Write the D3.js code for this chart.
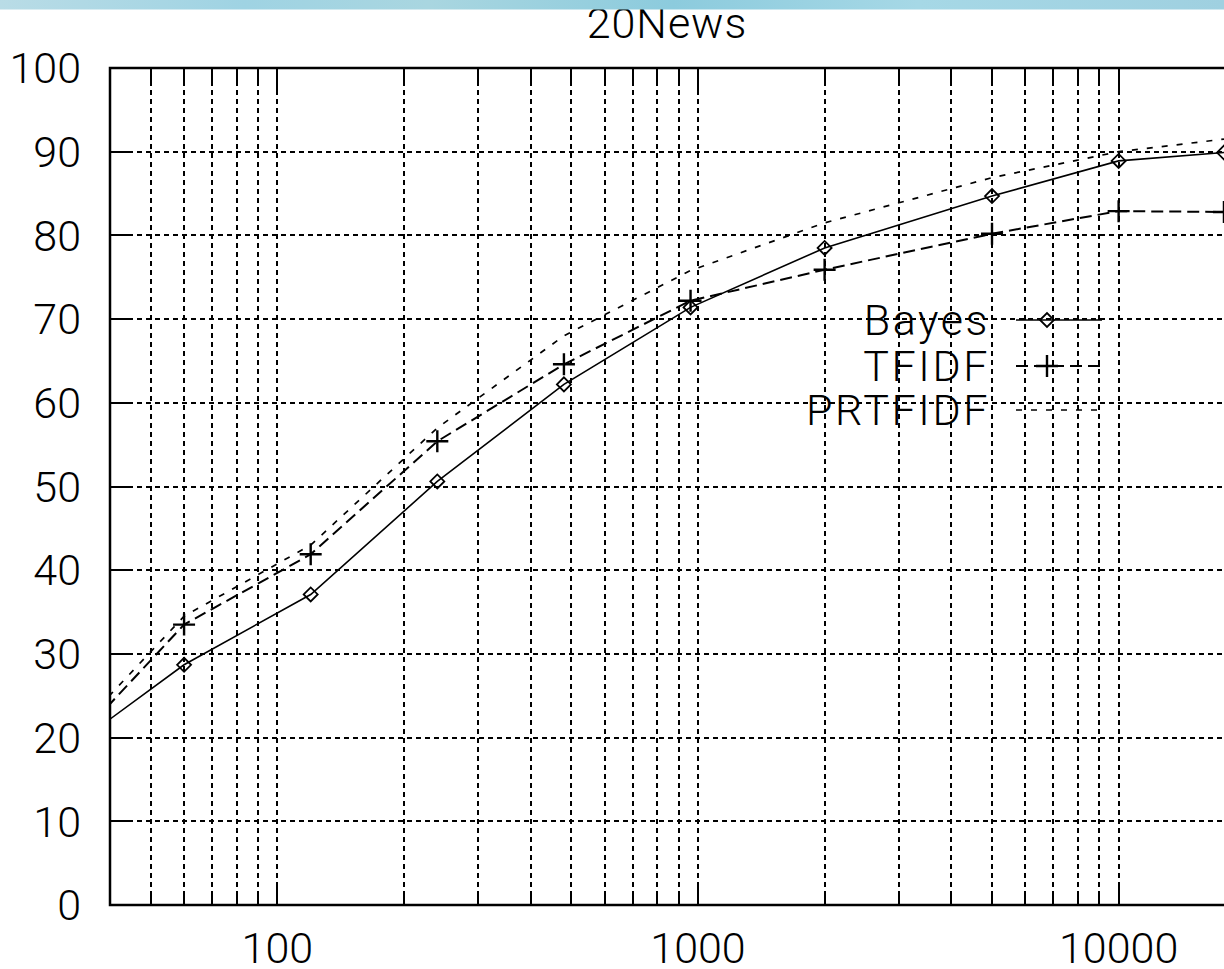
<!DOCTYPE html>
<html>
<head>
<meta charset="utf-8">
<script src="https://cdn.jsdelivr.net/npm/d3@7"></script>
<style>
  html, body { margin: 0; padding: 0; background: #fff; }
  svg { display: block; }
  text { font-family: "Roboto", "Liberation Sans", Arial, sans-serif; font-weight: 300; fill: #000; }
</style>
</head>
<body>
<svg id="chart" width="1224" height="969"></svg>
<script>
// ---- data ----
const title = "20News";
const trainSizes = [30, 60, 120, 240, 480, 960, 2000, 5000, 10000, 17800];
const bayes   = [17.6, 28.7, 37.1, 50.6, 62.2, 71.4, 78.5, 84.7, 88.9, 89.9];
const tfidf   = [17.3, 33.5, 41.9, 55.4, 64.6, 72.2, 75.9, 80.2, 82.9, 82.8];
const prtfidf = [18.4, 34.5, 43.0, 57.0, 68.0, 75.8, 81.5, 86.9, 90.0, 91.5];
const seriesNames = ["Bayes", "TFIDF", "PRTFIDF"];
const xDomain = [40, 18000];
const yDomain = [0, 100];
const xTickLabels = [100, 1000, 10000];
const yTickValues = [0, 10, 20, 30, 40, 50, 60, 70, 80, 90, 100];

// ---- layout ----
const svg = d3.select("#chart");
const L = 110, R = 1226, T = 68, B = 905;
const x = d3.scaleLog().domain(xDomain).range([L, R]);
const y = d3.scaleLinear().domain(yDomain).range([B, T]);
const px = v => Math.round(v) + 0.5;

// minor log ticks (gridlines) 50..10000
const xGrid = [];
[10, 100, 1000].forEach(dec => {
  for (let k = 1; k <= 9; k++) xGrid.push(dec * k);
});
xGrid.push(10000);
const xGridU = Array.from(new Set(xGrid)).filter(v => v > xDomain[0] && v < xDomain[1]);

const gGrid = svg.append("g").attr("stroke", "#000").attr("stroke-width", 2)
  .attr("stroke-dasharray", "5,4").attr("fill", "none").attr("shape-rendering", "crispEdges");
gGrid.selectAll("line.v").data(xGridU).enter().append("line")
  .attr("x1", d => Math.round(x(d))).attr("x2", d => Math.round(x(d))).attr("y1", B).attr("y2", T);
gGrid.selectAll("line.h").data(yTickValues.filter(v => v > 0 && v < 100)).enter().append("line")
  .attr("x1", L).attr("x2", R).attr("y1", d => Math.round(y(d))).attr("y2", d => Math.round(y(d)));

// ticks
const gTicks = svg.append("g").attr("stroke", "#000").attr("stroke-width", 2).attr("fill", "none")
  .attr("shape-rendering", "crispEdges");
xGridU.forEach(v => {
  const major = xTickLabels.includes(v);
  const len = major ? 22 : 14;
  const xx = Math.round(x(v));
  gTicks.append("line").attr("x1", xx).attr("x2", xx).attr("y1", B).attr("y2", B - len);
  gTicks.append("line").attr("x1", xx).attr("x2", xx).attr("y1", T).attr("y2", T + len);
});
yTickValues.forEach(v => {
  const yy = Math.round(y(v));
  gTicks.append("line").attr("x1", L).attr("x2", L + 22).attr("y1", yy).attr("y2", yy);
});

// border
svg.append("rect").attr("x", L).attr("y", T).attr("width", R - L).attr("height", B - T)
  .attr("fill", "none").attr("stroke", "#000").attr("stroke-width", 2.5);

// axis labels
svg.append("g").selectAll("text").data(yTickValues).enter().append("text")
  .attr("x", 81).attr("y", d => y(d)).attr("dy", "0.355em")
  .attr("text-anchor", "end").attr("font-size", 43).text(d => d);
svg.append("g").selectAll("text").data(xTickLabels).enter().append("text")
  .attr("x", d => x(d)).attr("y", 963)
  .attr("text-anchor", "middle").attr("font-size", 43).text(d => d);

// clip
svg.append("clipPath").attr("id", "plotclip").append("rect")
  .attr("x", L).attr("y", T).attr("width", R - L).attr("height", B - T);

const styles = {
  Bayes:   { data: bayes,   dash: null,   width: 1.6, marker: "diamond" },
  TFIDF:   { data: tfidf,   dash: "12,6", width: 2.0, marker: "plus" },
  PRTFIDF: { data: prtfidf, dash: "6,9",  width: 1.7, marker: null }
};

const line = d3.line().x(d => x(d[0])).y(d => y(d[1]));
const gData = svg.append("g").attr("clip-path", "url(#plotclip)");

function drawMarker(g, type, cx, cy) {
  if (type === "diamond") {
    const s = 7;
    g.append("path").attr("d", `M${cx - s},${cy}L${cx},${cy - s}L${cx + s},${cy}L${cx},${cy + s}Z`)
      .attr("fill", "none").attr("stroke", "#000").attr("stroke-width", 1.8);
  } else if (type === "plus") {
    const s = 11;
    g.append("path").attr("d", `M${cx - s},${cy}H${cx + s}M${cx},${cy - s}V${cy + s}`)
      .attr("fill", "none").attr("stroke", "#000").attr("stroke-width", 2.4);
  }
}

seriesNames.forEach(name => {
  const st = styles[name];
  const pts = trainSizes.map((t, i) => [t, st.data[i]]);
  gData.append("path").datum(pts).attr("d", line)
    .attr("fill", "none").attr("stroke", "#000").attr("stroke-width", st.width)
    .attr("stroke-dasharray", st.dash);
  if (st.marker) pts.forEach(p => drawMarker(gData, st.marker, x(p[0]), y(p[1])));
});

// legend
const legY = [320, 366, 410];
seriesNames.forEach((name, i) => {
  const st = styles[name];
  svg.append("text").attr("x", 990).attr("y", legY[i]).attr("dy", "0.355em")
    .attr("text-anchor", "end").attr("font-size", 43).attr("letter-spacing", 2.6).text(name);
  svg.append("line").attr("x1", 1016).attr("x2", 1102).attr("y1", legY[i]).attr("y2", legY[i])
    .attr("stroke", "#000").attr("stroke-width", st.width).attr("stroke-dasharray", st.dash);
  if (st.marker) drawMarker(svg, st.marker, 1047, legY[i]);
});

// title
svg.append("text").attr("x", 667).attr("y", 38).attr("text-anchor", "middle")
  .attr("font-size", 43).attr("letter-spacing", 1).text(title);

// decorative page strip at the very top
const defs = svg.append("defs");
const grad = defs.append("linearGradient").attr("id", "strip").attr("x1", "0").attr("x2", "1");
[["0%", "#b9dce6"], ["20%", "#9fd3e3"], ["35%", "#a9d6e0"], ["55%", "#8ccbdd"], ["75%", "#a6d8e6"], ["100%", "#9fd0e0"]]
  .forEach(s => grad.append("stop").attr("offset", s[0]).attr("stop-color", s[1]));
svg.append("rect").attr("x", 0).attr("y", 0).attr("width", 1224).attr("height", 9.5).attr("fill", "url(#strip)");
</script>
</body>
</html>
